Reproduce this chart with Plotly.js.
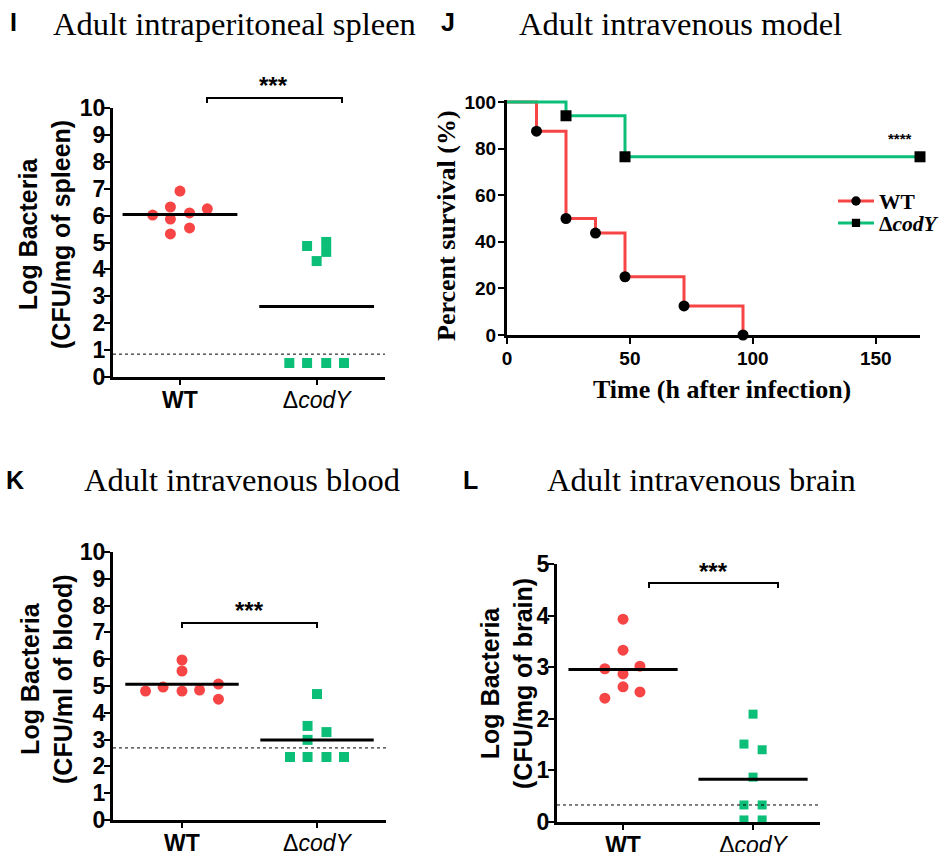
<!DOCTYPE html>
<html><head><meta charset="utf-8">
<script src="https://cdn.plot.ly/plotly-3.0.1.min.js"></script>
<style>html,body{margin:0;padding:0;background:#fff}</style>
</head><body><div id="chart" style="width:945px;height:852px"></div>
<script>
// ---------- data ----------
const groups = ['WT', 'ΔcodY'];

// Panel I: Adult intraperitoneal spleen (log CFU/mg)
const spleenWT = [6.02, 6.32, 6.91, 5.87, 6.10, 6.25, 5.32, 5.54];
const spleenKO = [4.87, 5.02, 4.65, 4.31, 0.52, 0.52, 0.52, 0.52];
const spleenLOD = 0.85;
// beeswarm offsets (category units)
const spleenWTswarm = [-0.20, -0.07, 0.0, -0.07, 0.07, 0.20, -0.07, 0.07];
const spleenKOswarm = [-0.07, 0.07, 0.07, 0.0, -0.20, -0.07, 0.07, 0.20];

// Panel J: survival (Kaplan-Meier)
const kmTimeWT = [0, 12, 24, 36, 48, 72, 96];
const kmSurvWT = [100, 87.5, 50, 43.75, 25, 12.5, 0];
const kmTimeKO = [0, 24, 48, 168];
const kmSurvKO = [100, 94.1, 76.5, 76.5];

// Panel K: Adult intravenous blood (log CFU/ml)
const bloodWT = [4.81, 4.96, 5.97, 5.56, 4.81, 4.85, 5.07, 4.51];
const bloodKO = [4.70, 3.51, 3.28, 2.99, 2.35, 2.35, 2.35, 2.35];
const bloodLOD = 2.69;
const bloodWTswarm = [-0.27, -0.14, 0.0, 0.0, 0.0, 0.13, 0.27, 0.27];
const bloodKOswarm = [0.0, -0.07, 0.07, -0.07, -0.20, -0.07, 0.07, 0.20];

// Panel L: Adult intravenous brain (log CFU/mg)
const brainWT = [3.93, 3.33, 2.97, 3.02, 2.87, 2.62, 2.52, 2.40];
const brainKO = [2.09, 1.51, 1.40, 0.87, 0.33, 0.33, 0.04, 0.04];
const brainLOD = 0.33;
const brainWTswarm = [0.0, 0.0, -0.14, 0.13, 0.0, 0.0, 0.13, -0.14];
const brainKOswarm = [0.0, -0.07, 0.07, 0.0, -0.07, 0.07, -0.07, 0.07];

// ---------- helpers ----------
const W = 945, H = 852;
const PX = x => x / W, PY = y => 1 - y / H;
const RED = '#F74545', GREEN = '#0BBF78';
const SANS = 'Liberation Sans', SERIF = 'Liberation Serif';
const mean = a => a.reduce((s, v) => s + v, 0) / a.length;
const tickText = ['<b>' + groups[0] + '</b>', 'Δ<i>' + groups[1].slice(1) + '</i>'];

function catX(d0, d1, range) {
  return { domain: [PX(d0), PX(d1)], range: range, tickmode: 'array', tickvals: [0, 1], ticktext: tickText,
    showline: true, linewidth: 3, linecolor: '#000', ticks: 'outside', ticklen: 5, tickwidth: 2, tickcolor: '#000',
    ticklabelstandoff: -5,
    showgrid: false, zeroline: false, fixedrange: true,
    tickfont: { family: SANS, size: 23, color: '#000' } };
}
function valY(top, bottom, range, dtick, fs) {
  return { domain: [PY(bottom), PY(top)], range: range, tickmode: 'linear', tick0: 0, dtick: dtick,
    showline: true, linewidth: 3, linecolor: '#000', ticks: 'outside', ticklen: 6, tickwidth: 2, tickcolor: '#000',
    ticklabelstandoff: -6,
    showgrid: false, zeroline: false, fixedrange: true,
    tickfont: { family: SANS, size: fs || 23, color: '#000', weight: 'bold' } };
}

const traces = [];
function dotPanel(xa, ya, wt, wtSw, ko, koSw, msC, msS) {
  traces.push({ type: 'scatter', mode: 'markers', xaxis: xa, yaxis: ya, showlegend: false, cliponaxis: false,
    x: wt.map((v, i) => 0 + wtSw[i]), y: wt, marker: { color: RED, size: msC, symbol: 'circle', opacity: 1 } });
  traces.push({ type: 'scatter', mode: 'markers', xaxis: xa, yaxis: ya, showlegend: false, cliponaxis: false,
    x: ko.map((v, i) => 1 + koSw[i]), y: ko, marker: { color: GREEN, size: msS, symbol: 'square', opacity: 1 } });
  const mw = mean(wt), mk = mean(ko);
  traces.push({ type: 'scatter', mode: 'lines', xaxis: xa, yaxis: ya, showlegend: false,
    x: [-0.42, 0.42], y: [mw, mw], line: { color: '#000', width: 3 } });
  traces.push({ type: 'scatter', mode: 'lines', xaxis: xa, yaxis: ya, showlegend: false,
    x: [1 - 0.42, 1 + 0.42], y: [mk, mk], line: { color: '#000', width: 3 } });
}
dotPanel('x', 'y', spleenWT, spleenWTswarm, spleenKO, spleenKOswarm, 11, 10);
dotPanel('x3', 'y3', bloodWT, bloodWTswarm, bloodKO, bloodKOswarm, 11, 10);
dotPanel('x4', 'y4', brainWT, brainWTswarm, brainKO, brainKOswarm, 11, 9);

// KM curves
traces.push({ type: 'scatter', mode: 'lines+markers', xaxis: 'x2', yaxis: 'y2', name: '<b>WT</b>', cliponaxis: false,
  legend: 'legend',
  x: kmTimeWT, y: kmSurvWT, line: { color: RED, width: 3, shape: 'hv' },
  marker: { color: '#000', symbol: 'circle', opacity: 1, line: { width: 0 },
    size: kmTimeWT.map((t, i) => i === 0 ? 0 : 11) } });
traces.push({ type: 'scatter', mode: 'lines+markers', xaxis: 'x2', yaxis: 'y2', name: '<b>Δ<i>codY</i></b>', cliponaxis: false,
  legend: 'legend2',
  x: kmTimeKO, y: kmSurvKO, line: { color: GREEN, width: 3, shape: 'hv' },
  marker: { color: '#000', symbol: 'square', opacity: 1, line: { width: 0 },
    size: kmTimeKO.map((t, i) => i === 0 ? 0 : 11) } });

// ---------- layout ----------
const shapes = [];
function lod(xa, ya, v) {
  shapes.push({ type: 'line', xref: xa + ' domain', yref: ya, x0: 0, x1: 1, y0: v, y1: v,
    line: { color: '#000', width: 1, dash: 'dot' } });
}
lod('x', 'y', spleenLOD); lod('x3', 'y3', bloodLOD); lod('x4', 'y4', brainLOD);

function bracket(x0, x1, y, drop) {
  shapes.push({ type: 'path', xref: 'paper', yref: 'paper', line: { color: '#000', width: 2 },
    path: `M ${PX(x0)} ${PY(y + drop)} L ${PX(x0)} ${PY(y)} L ${PX(x1)} ${PY(y)} L ${PX(x1)} ${PY(y + drop)}` });
}
bracket(207, 342, 98, 5);
bracket(182, 317, 623, 5);
bracket(649, 778, 583, 5);

const annotations = [];
function txt(x, y, text, font, extra) {
  annotations.push(Object.assign({ xref: 'paper', yref: 'paper', x: PX(x), y: PY(y), text: text, showarrow: false,
    xanchor: 'center', yanchor: 'middle', font: font }, extra || {}));
}
const letterFont = { family: SANS, size: 25, color: '#000', weight: 'bold' };
const titleFont = { family: SERIF, size: 32.5, color: '#000' };
const ytFont = { family: SANS, size: 25, color: '#000', weight: 'bold' };
const starFont = { family: SANS, size: 24, color: '#000', weight: 'bold' };
const serifBold = { family: SERIF, size: 26, color: '#000' };

txt(13, 22, 'I', letterFont);
txt(234, 24, 'Adult intraperitoneal spleen', titleFont);
txt(448, 22, 'J', letterFont);
txt(680, 24, 'Adult intravenous model', titleFont);
txt(15, 480, 'K', letterFont);
txt(242, 480, 'Adult intravenous blood', titleFont);
txt(470, 480, 'L', letterFont);
txt(701, 480, 'Adult intravenous brain', titleFont);

txt(44, 235, 'Log Bacteria<br>(CFU/mg of spleen)', ytFont, { textangle: -90 });
txt(46, 679, 'Log Bacteria<br>(CFU/ml of blood)', ytFont, { textangle: -90 });
txt(506, 683, 'Log Bacteria<br>(CFU/mg of brain)', ytFont, { textangle: -90 });
txt(447, 226, '<b>Percent survival (%)</b>', serifBold, { textangle: -90 });
txt(722, 389, '<b>Time (h after infection)</b>', serifBold);

txt(273, 85, '***', starFont);
txt(249, 610, '***', starFont);
txt(713, 571, '***', starFont);
txt(900, 138, '****', { family: SANS, size: 15, color: '#000', weight: 'bold' });

const legBase = { xanchor: 'left', yanchor: 'middle', bgcolor: 'rgba(0,0,0,0)', itemwidth: 36,
  font: { family: SERIF, size: 21.5, color: '#000' } };

const layout = {
  width: W, height: H, autosize: false, margin: { l: 0, r: 0, t: 0, b: 0 },
  paper_bgcolor: '#fff', plot_bgcolor: 'rgba(0,0,0,0)',
  xaxis: Object.assign(catX(113, 385, [-0.49, 1.5]), { anchor: 'y' }),
  yaxis: Object.assign(valY(108, 377, [0, 10], 1), { anchor: 'x' }),
  xaxis2: { domain: [PX(507), PX(920)], range: [0, 168], tickmode: 'linear', tick0: 0, dtick: 50,
    showline: true, linewidth: 3, linecolor: '#000', ticks: 'outside', ticklen: 6, tickwidth: 2, tickcolor: '#000',
    showgrid: false, zeroline: false, fixedrange: true, anchor: 'y2', ticklabelstandoff: -2,
    tickfont: { family: SANS, size: 19, color: '#000', weight: 'bold' } },
  yaxis2: Object.assign(valY(99.7, 335, [0, 101], 20, 19), { anchor: 'x2', ticklabelstandoff: -2 }),
  xaxis3: Object.assign(catX(113, 386, [-0.511, 1.511]), { anchor: 'y3' }),
  yaxis3: Object.assign(valY(552, 820, [0, 10], 1), { anchor: 'x3' }),
  xaxis4: Object.assign(catX(557, 820, [-0.508, 1.515]), { anchor: 'y4' }),
  yaxis4: Object.assign(valY(564, 822, [0, 5], 1), { anchor: 'x4' }),
  showlegend: true,
  legend: Object.assign({}, legBase, { x: PX(833), y: PY(201) }),
  legend2: Object.assign({}, legBase, { x: PX(833), y: PY(223) }),
  shapes: shapes, annotations: annotations
};

Plotly.newPlot('chart', traces, layout, { displayModeBar: false, staticPlot: true });
</script></body></html>
